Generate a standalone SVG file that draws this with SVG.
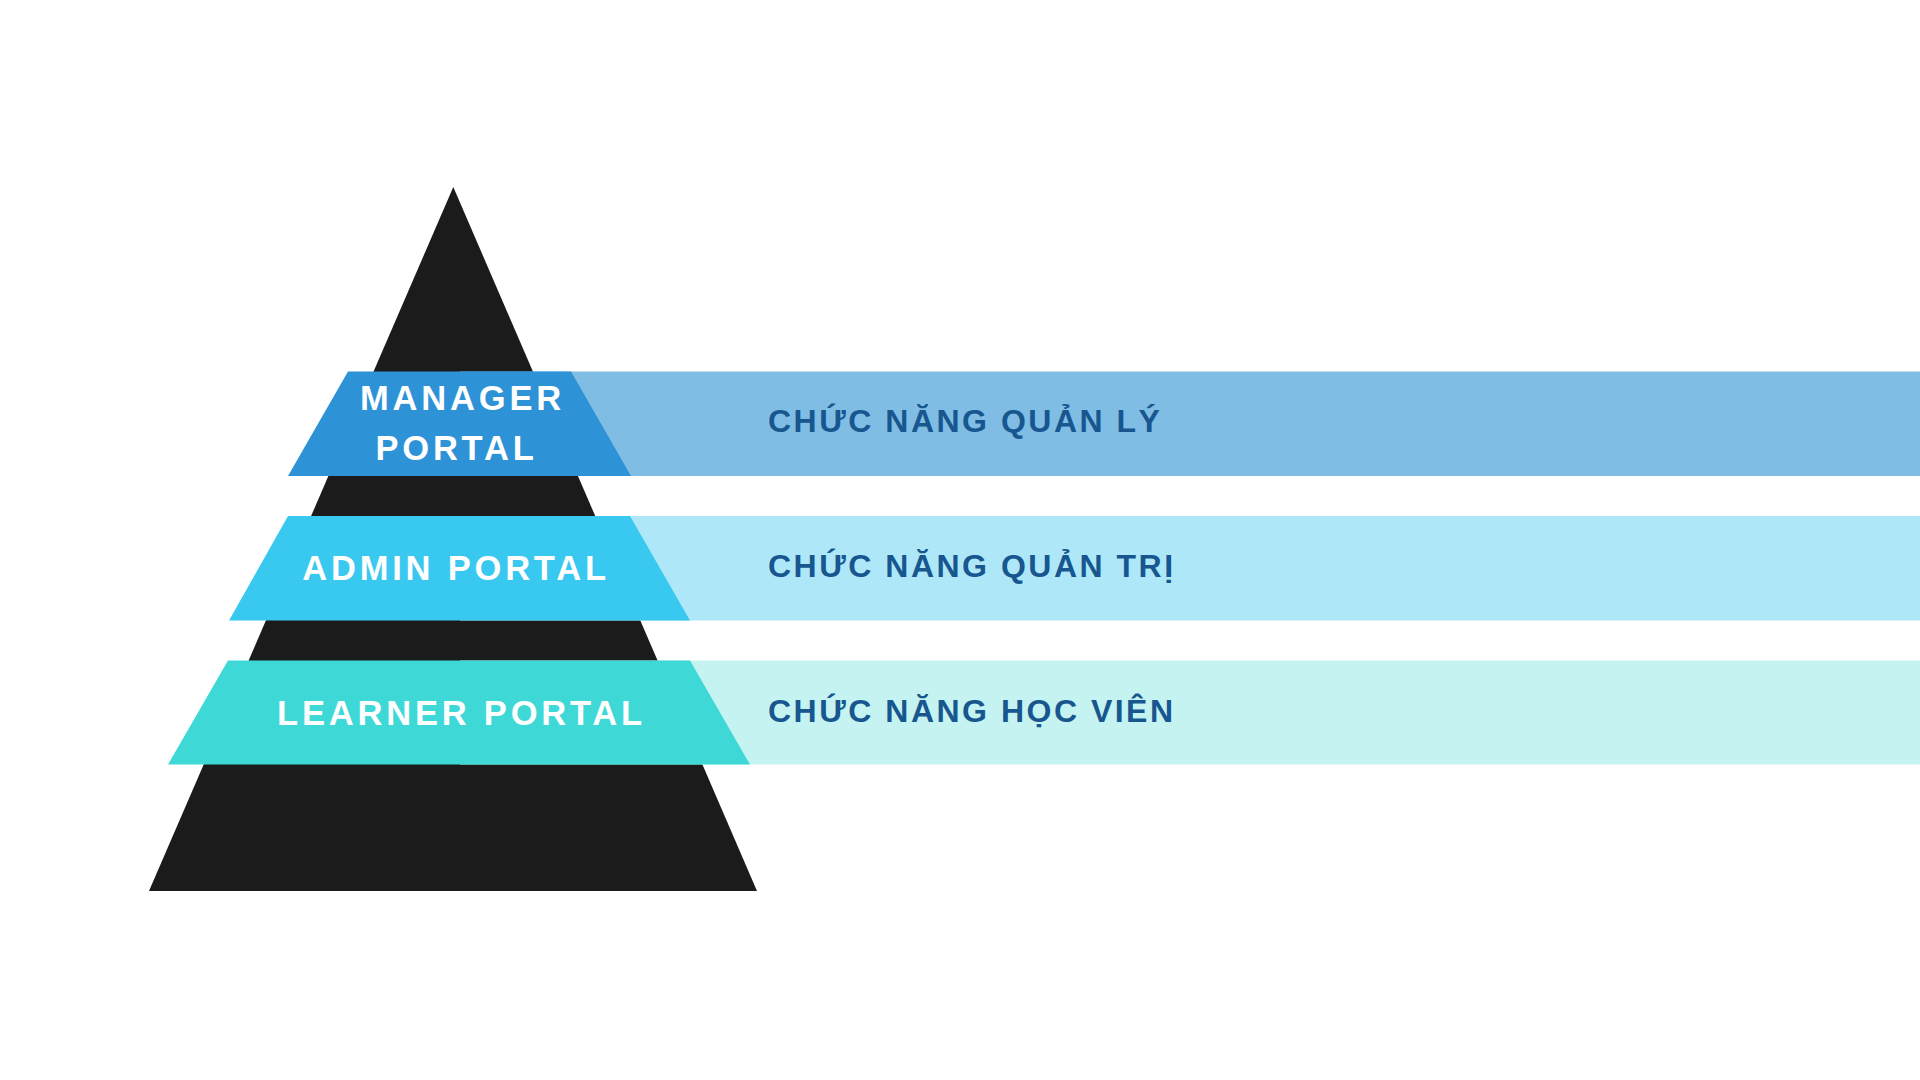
<svg xmlns="http://www.w3.org/2000/svg" width="1920" height="1080" viewBox="0 0 1920 1080">
  <style>
    .portal { font-family: "Liberation Sans", Arial, sans-serif; font-weight: bold; font-size: 34.5px; fill: #ffffff; letter-spacing: 3.8px; text-anchor: middle; }
    .func { font-family: "Liberation Sans", Arial, sans-serif; font-weight: bold; font-size: 32px; fill: #17568f; letter-spacing: 2.5px; }
  </style>
  <rect x="0" y="0" width="1920" height="1080" fill="#ffffff"/>
  <g id="pyramid">
    <polygon points="453.3,187 757,891 149,891" fill="#1b1b1b"/>
  </g>
  <g id="manager">
    <rect x="460" y="371.5" width="1460" height="104.5" fill="#80bde4"/>
    <polygon points="348,371.5 571,371.5 631,476 288,476" fill="#2e92d7"/>
    <text class="portal" x="462.5" y="410">MANAGER</text>
    <text class="portal" x="456.5" y="460">PORTAL</text>
    <text class="func" x="768" y="432">CHỨC NĂNG QUẢN LÝ</text>
  </g>
  <g id="admin">
    <rect x="460" y="516" width="1460" height="104.5" fill="#aee8f8"/>
    <polygon points="288,516 630,516 690,620.5 229,620.5" fill="#39c8ef"/>
    <text class="portal" x="456" y="579.5">ADMIN PORTAL</text>
    <text class="func" x="768" y="576.5">CHỨC NĂNG QUẢN TRỊ</text>
  </g>
  <g id="learner">
    <rect x="460" y="660.5" width="1460" height="104" fill="#c5f3f1"/>
    <polygon points="228,660.5 690,660.5 750,764.5 168,764.5" fill="#3ed9d7"/>
    <text class="portal" x="461.5" y="725">LEARNER PORTAL</text>
    <text class="func" x="768" y="722">CHỨC NĂNG HỌC VIÊN</text>
  </g>
</svg>
